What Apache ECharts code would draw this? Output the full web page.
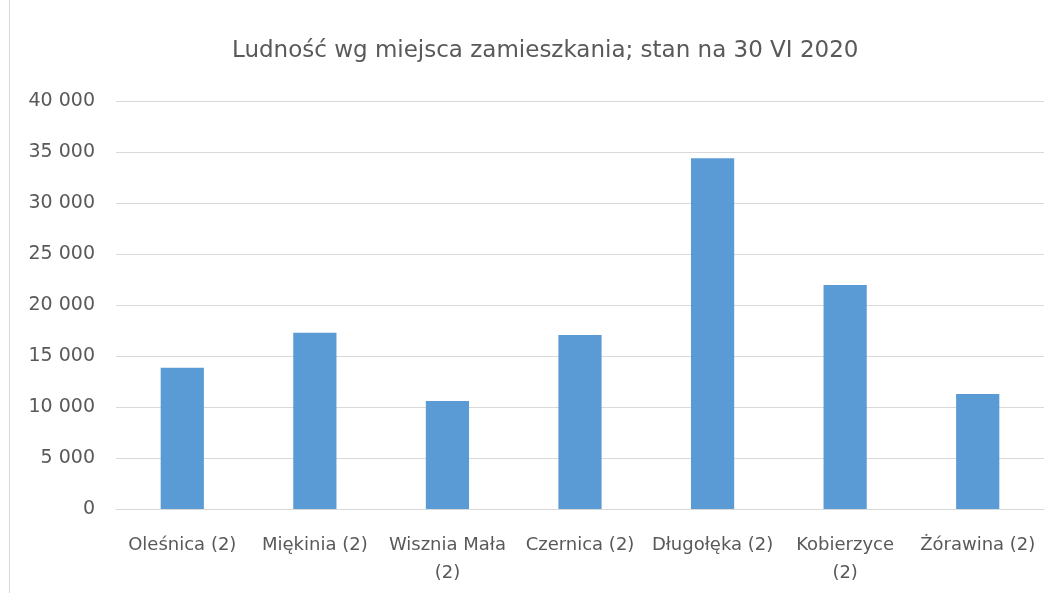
<!DOCTYPE html>
<html>
<head>
<meta charset="utf-8">
<script src="https://cdn.jsdelivr.net/npm/echarts@6/dist/echarts.min.js"></script>
<style>
	html, body { margin: 0; padding: 0; background: #fff; }
	#chart { width: 1059px; height: 593px; }
</style>
</head>
<body>
<div id="chart"></div>
<script>
	// dane z wykresu
	var gminy = ['Oleśnica (2)', 'Miękinia (2)', 'Wisznia Mała\n(2)', 'Czernica (2)', 'Długołęka (2)', 'Kobierzyce\n(2)', 'Żórawina (2)'];
	var ludnosc = [13850, 17280, 10600, 17060, 34380, 21960, 11270];
	var yMin = 0, yMax = 40000, yStep = 5000;

	var textColor = '#595959';
	var font = 'DejaVu Sans';

	function fmt(v) {
		return String(v).replace(/\B(?=(\d{3})+(?!\d))/g, ' ');
	}

	var myChart = echarts.init(document.getElementById('chart'));
	myChart.setOption({
		animation: false,
		title: {
			text: 'Ludność wg miejsca zamieszkania; stan na 30 VI 2020',
			left: 227,
			top: 35,
			textStyle: { fontFamily: font, fontSize: 23, fontWeight: 'normal', color: textColor }
		},
		graphic: [{
			type: 'line',
			shape: { x1: 9.5, y1: 0, x2: 9.5, y2: 593 },
			style: { stroke: '#d9d9d9', lineWidth: 1 }
		}],
		grid: { left: 116, right: 15, top: 101, bottom: 84, containLabel: false },
		xAxis: {
			type: 'category',
			data: gminy,
			axisLine: { lineStyle: { color: '#d9d9d9', width: 1 } },
			axisTick: { show: false },
			axisLabel: {
				fontFamily: font, fontSize: 18, color: textColor,
				margin: 22, lineHeight: 28, interval: 0
			}
		},
		yAxis: {
			type: 'value',
			min: yMin, max: yMax, interval: yStep,
			axisLine: { show: false },
			axisTick: { show: false },
			splitLine: { lineStyle: { color: '#d9d9d9', width: 1 } },
			axisLabel: {
				fontFamily: font, fontSize: 19, color: textColor, margin: 21,
				formatter: fmt
			}
		},
		series: [{
			type: 'bar',
			data: ludnosc,
			barWidth: '32.6%',
			itemStyle: { color: '#5b9bd5' }
		}]
	});
</script>
</body>
</html>
